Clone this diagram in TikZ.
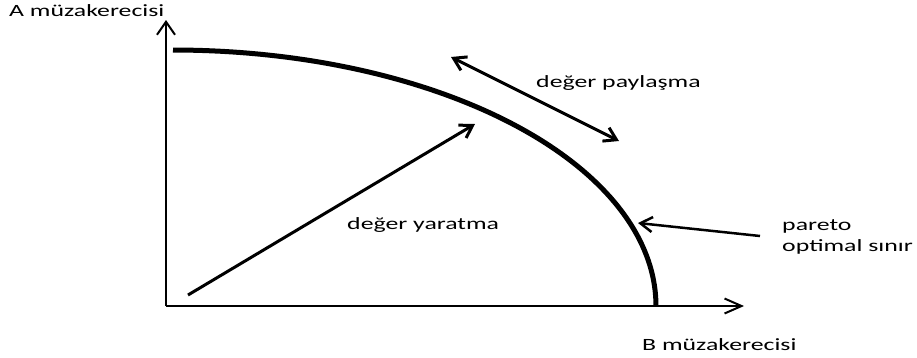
\documentclass[tikz,border=0pt]{standalone}
\usepackage{fontspec}
\newfontfamily\labfont[FakeStretch=1.5]{Carlito}
\usetikzlibrary{arrows.meta}
\tikzset{bigtip/.tip={Straight Barb[length=12pt,width=15pt]}}
\begin{document}
\begin{tikzpicture}[x=1pt,y=-1pt,
  lab/.style={font=\labfont\fontsize{17.2}{20}\selectfont, anchor=base west, inner sep=0pt, text=black},
  axisline/.style={line width=2pt},
  valarrow/.style={line width=3pt}
]
\useasboundingbox (0,0) rectangle (917,357);
% axes
\coordinate (O) at (166,306);
\coordinate (ytip) at (166,20);
\coordinate (xtip) at (744,306);
\draw[axisline, -{Straight Barb[length=13pt,width=18pt]}] (O) -- (ytip);
\draw[axisline, -{Straight Barb[length=17pt,width=15pt]}] (O) -- (xtip);
% pareto frontier
\draw[line width=5pt] plot[domain=90:0, samples=80] ({173+483*cos(\x)}, {306-256*sin(\x)});
% labels
\node[lab] (alab) at (9,16) {A müzakerecisi};
\node[lab] (blab) at (642,350) {B müzakerecisi};
\node[lab] (paylas) at (536,87) {değer paylaşma};
\node[lab] (yarat) at (347,229) {değer yaratma};
\node[lab] (pareto) at (782,230) {pareto};
\node[lab] (optimal) at (782,251) {optimal sınır};
% arrows
\coordinate (y0) at (188,295);
\coordinate (y1) at (475,124);
\draw[valarrow, -bigtip] (y0) -- (y1);
\coordinate (p0) at (451,57);
\coordinate (p1) at (619,141);
\draw[valarrow, bigtip-bigtip] (p0) -- (p1);
\coordinate (f0) at (760,236);
\coordinate (f1) at (638,223);
\draw[line width=2.5pt, -bigtip] (f0) -- (f1);
\end{tikzpicture}
\end{document}
